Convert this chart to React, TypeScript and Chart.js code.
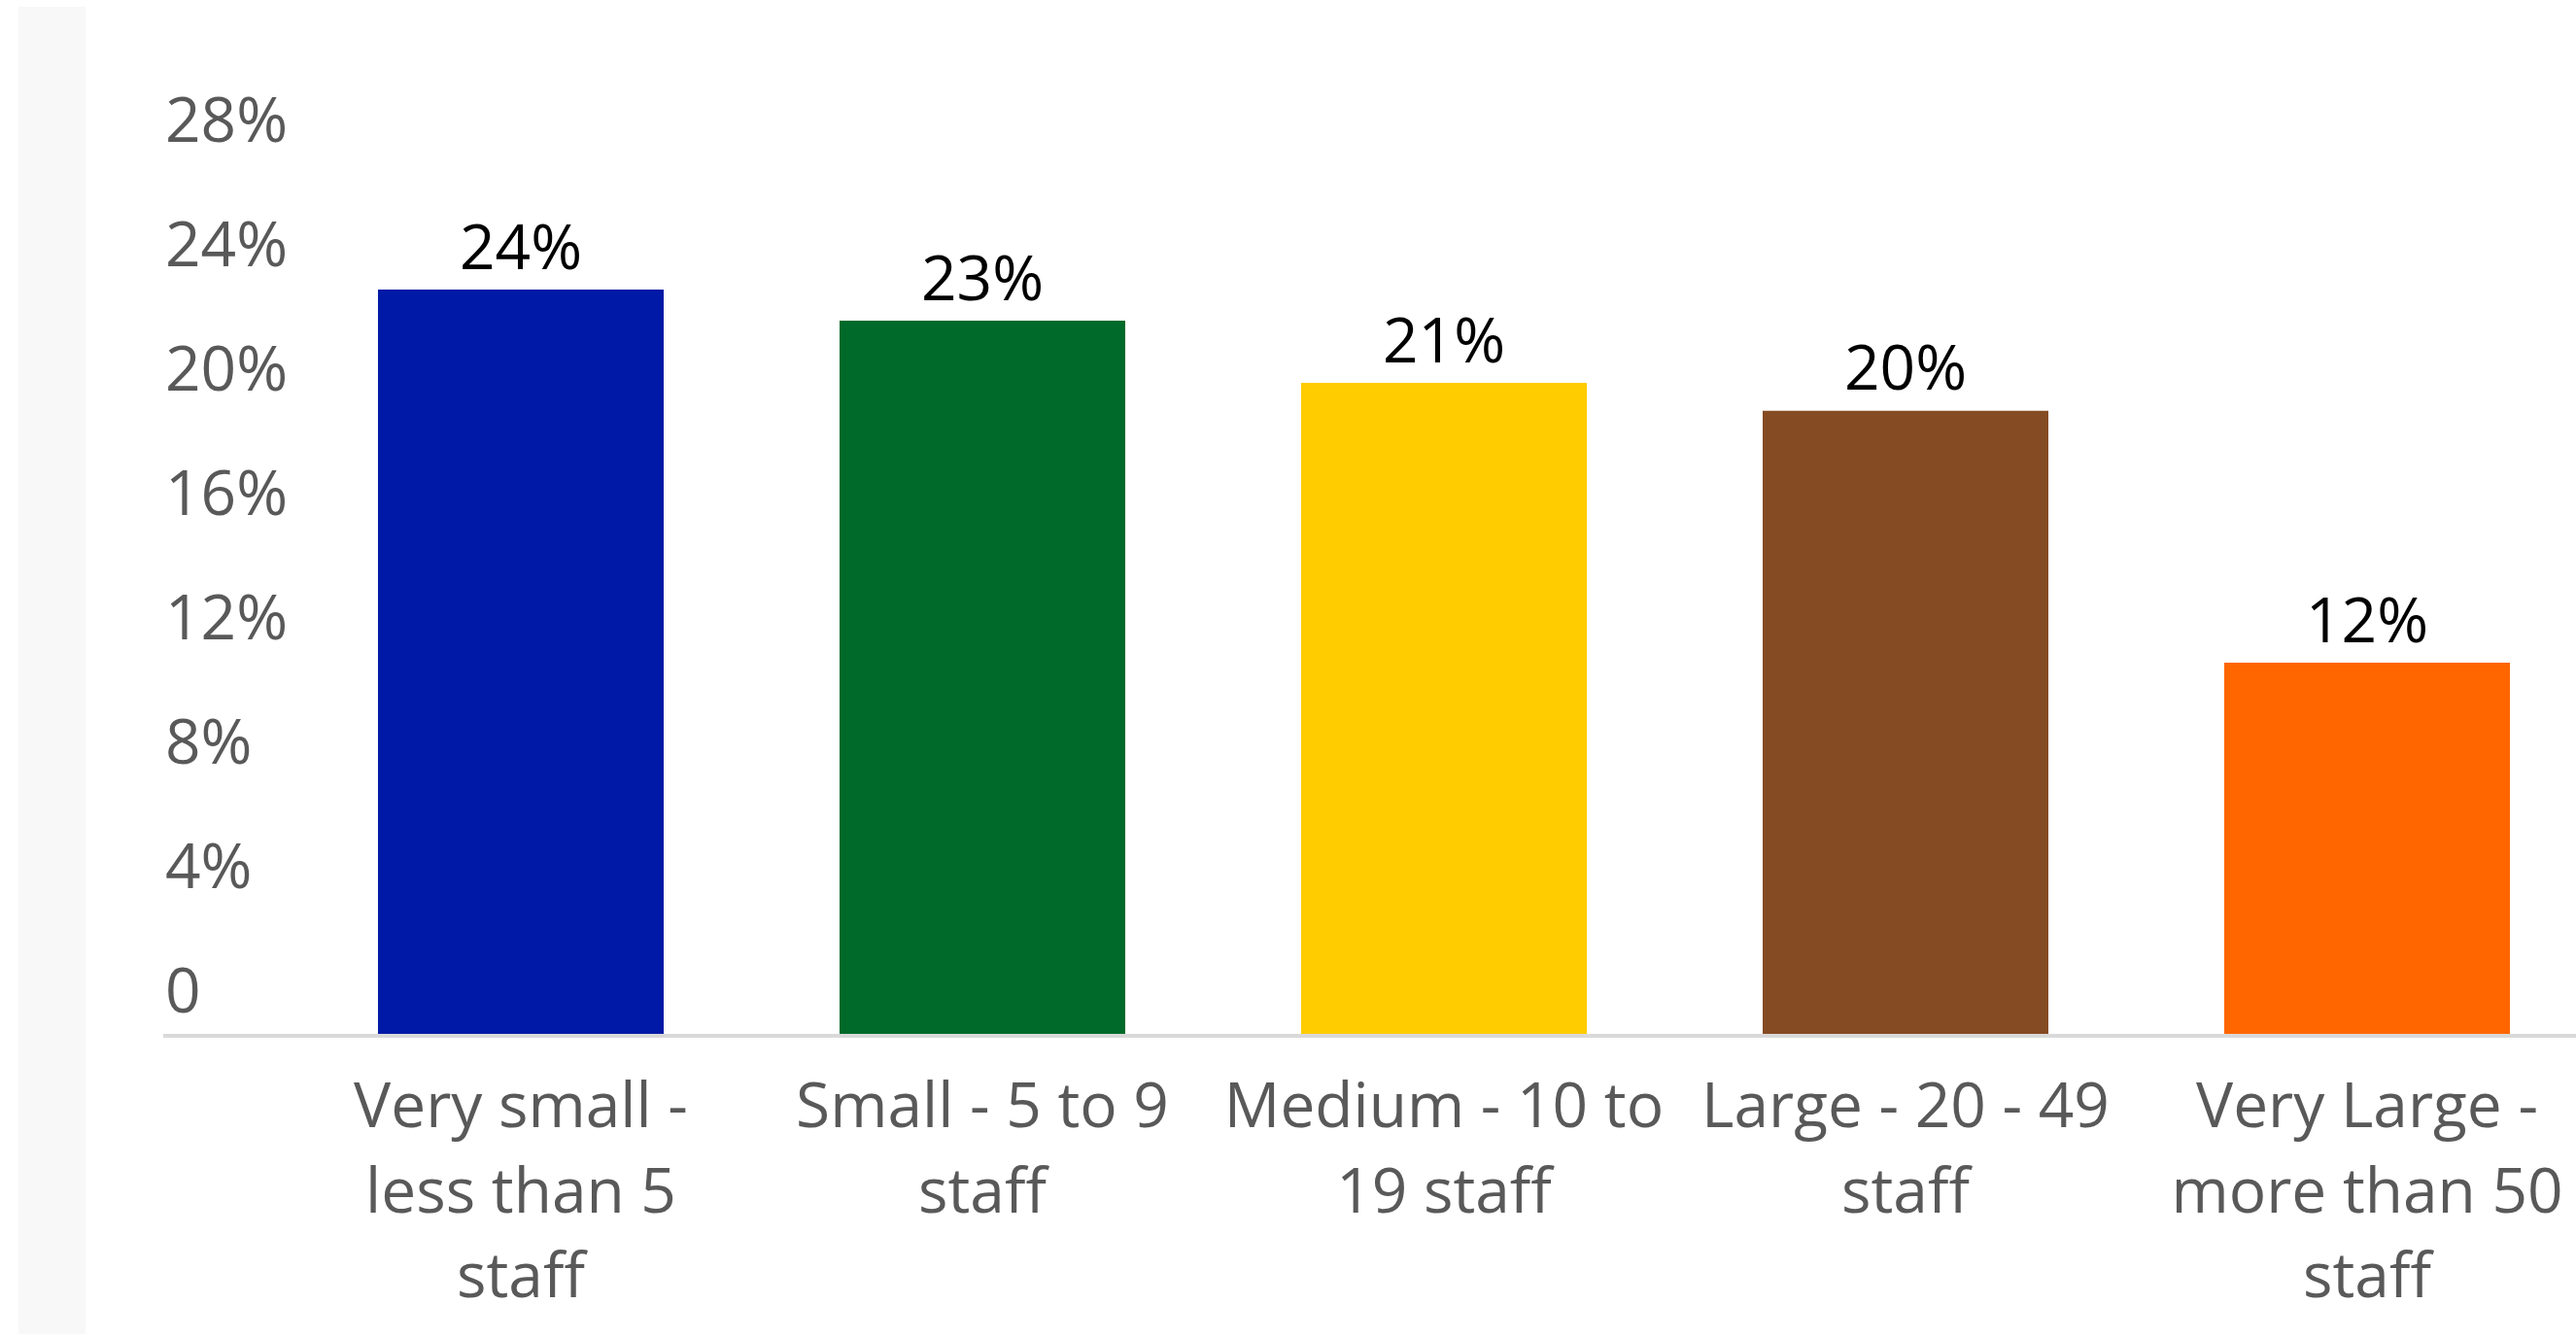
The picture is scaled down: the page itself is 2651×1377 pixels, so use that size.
import React, { useEffect, useRef } from "react";
import { Chart, registerables } from "chart.js";

Chart.register(...registerables);

const categories: string[][] = [
  ["Very small -", "less than 5", "staff"],
  ["Small - 5 to 9", "staff"],
  ["Medium - 10 to", "19 staff"],
  ["Large - 20 - 49", "staff"],
  ["Very Large -", "more than 50", "staff"],
];
const shareValues: number[] = [24, 23, 21, 20.1, 12];
const barColors: string[] = ["#0019A6", "#006A2A", "#FFCC00", "#854B23", "#FF6600"];
const yMin = 0;
const yMax = 28;
const yStep = 4;

const FONT = '"Open Sans", sans-serif';

const dataLabelPlugin = {
  id: "dataLabels",
  afterDatasetsDraw(chart: any) {
    const ctx = chart.ctx;
    const meta = chart.getDatasetMeta(0);
    ctx.save();
    ctx.font = `400 64px ${FONT}`;
    ctx.fillStyle = "#000000";
    ctx.textAlign = "center";
    ctx.textBaseline = "alphabetic";
    meta.data.forEach((bar: any, i: number) => {
      ctx.fillText(Math.round(shareValues[i]) + "%", bar.x, bar.y - 21.5);
    });
    ctx.restore();
  },
};

export default function App() {
  const canvasRef = useRef<HTMLCanvasElement | null>(null);

  useEffect(() => {
    if (!canvasRef.current) return;
    const chart = new Chart(canvasRef.current, {
      type: "bar",
      data: {
        labels: categories,
        datasets: [
          {
            data: shareValues,
            backgroundColor: barColors,
            borderWidth: 0,
            categoryPercentage: 1,
            barPercentage: 0.619,
          },
        ],
      },
      options: {
        responsive: false,
        animation: false,
        devicePixelRatio: 1,
        layout: { padding: { left: 170, right: 26.5, top: 170, bottom: 0 } },
        plugins: {
          legend: { display: false },
          tooltip: { enabled: false },
          title: { display: false },
        },
        scales: {
          x: {
            offset: true,
            grid: { display: false, drawTicks: false },
            border: { display: false },
            ticks: {
              color: "#595959",
              font: { family: FONT, size: 64, lineHeight: 1.37 },
              padding: 32,
              maxRotation: 0,
              minRotation: 0,
              autoSkip: false,
            },
            afterFit: (scale: any) => {
              scale.height = 311;
            },
          },
          y: {
            min: yMin,
            max: yMax,
            border: { display: false },
            grid: {
              drawTicks: true,
              tickLength: 130.5,
              lineWidth: 4,
              color: (ctx: any) =>
                ctx.tick && ctx.tick.value === 0 ? "#d9d9d9" : "rgba(0,0,0,0)",
            },
            ticks: {
              stepSize: yStep,
              color: "#595959",
              font: { family: FONT, size: 64 },
              crossAlign: "far",
              labelOffset: -42,
              callback: (v: any) => (Number(v) === 0 ? "0" : v + "%"),
            },
            afterFit: (scale: any) => {
              scale.width = 128.5;
            },
          },
        },
      },
      plugins: [dataLabelPlugin],
    });
    return () => chart.destroy();
  }, []);

  return (
    <div
      style={{
        position: "absolute",
        left: 0,
        top: 0,
        width: 2651,
        height: 1377,
        overflow: "hidden",
        background: "#ffffff",
      }}
    >
      <div
        style={{
          position: "absolute",
          left: 19,
          top: 7,
          width: 69,
          height: 1366,
          background: "#f8f8f8",
        }}
      />
      <canvas
        ref={canvasRef}
        width={2700}
        height={1377}
        style={{ position: "absolute", left: 0, top: 0, width: 2700, height: 1377 }}
      />
    </div>
  );
}
